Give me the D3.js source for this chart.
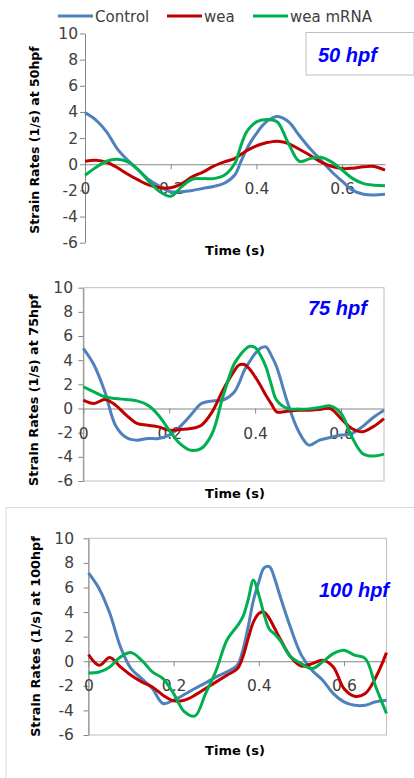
<!DOCTYPE html>
<html lang="en">
<head>
<meta charset="utf-8">
<script src="https://d3js.org/d3.v7.min.js"></script>
<style type="text/css">
body {
	margin: 0;
	background: #fff;
}
.tick text {
	font-family: "DejaVu Sans", sans-serif;
	font-size: 15.5px;
	fill: #404040;
}
.tick line, .domain {
	stroke: #868686;
}
.axis-title {
	font-family: "DejaVu Sans", sans-serif;
	font-weight: bold;
	fill: #000;
}
.stage {
	font-family: "Liberation Sans", Arial, sans-serif;
	font-weight: bold;
	font-style: italic;
	font-size: 20px;
	fill: #0000ff;
}
.legend text {
	font-family: "DejaVu Sans", sans-serif;
	font-size: 15px;
	fill: #404040;
}
</style>
</head>
<body>
<script type="text/javascript">

// time points (s), shared by all three panels
const times = [0, 0.025, 0.05, 0.075, 0.1, 0.125, 0.15, 0.175, 0.2, 0.225, 0.25, 0.275, 0.3, 0.325,
               0.35, 0.3625, 0.375, 0.3875, 0.4, 0.4125, 0.425, 0.4375, 0.45,
               0.475, 0.5, 0.525, 0.55, 0.575, 0.6, 0.625, 0.65, 0.675, 0.7];

// 50 hpf
const control50 = [3.95, 3.4, 2.5, 1.2, 0.3, -0.45, -1.2, -1.7, -2.1, -2.1, -2.0, -1.85, -1.7, -1.45,
                   -0.8, 0.1, 1.0, 1.75, 2.35, 2.9, 3.3, 3.55, 3.65,
                   3.25, 2.2, 1.2, 0.33, -0.55, -1.3, -2.0, -2.3, -2.35, -2.3];
const wea50 = [0.23, 0.3, 0.15, -0.25, -0.77, -1.22, -1.6, -1.8, -1.8, -1.5, -0.97, -0.6, -0.15, 0.18,
               0.45, 0.72, 1.0, 1.22, 1.4, 1.55, 1.66, 1.73, 1.76,
               1.58, 1.15, 0.69, 0.18, -0.15, -0.33, -0.3, -0.2, -0.17, -0.45];
const mrna50 = [-0.85, -0.25, 0.23, 0.38, 0.18, -0.45, -1.35, -2.1, -2.45, -1.73, -1.15, -1.1, -1.1, -0.85,
                0.1, 1.3, 2.35, 2.9, 3.24, 3.38, 3.42, 3.38, 3.2,
                1.58, 0.23, 0.43, 0.53, 0.18, -0.45, -1.1, -1.48, -1.6, -1.65];

// 75 hpf
const control75 = [4.97, 3.6, 1.4, -1.4, -2.4, -2.62, -2.48, -2.48, -2.2, -1.5, -0.55, 0.41, 0.63, 0.69,
                   1.3, 2.1, 3.17, 3.9, 4.55, 5.0, 5.1, 4.4, 3.45,
                   0.55, -1.8, -3.03, -2.62, -2.4, -2.2, -2.07, -1.5, -0.74, -0.14];
const wea75 = [0.69, 0.41, 0.74, 0.28, -0.55, -1.24, -1.38, -1.52, -1.8, -1.74, -1.66, -1.38, -0.28, 1.52,
               3.03, 3.6, 3.64, 3.25, 2.62, 1.9, 1.1, 0.4, -0.28,
               -0.22, -0.14, -0.14, -0.08, 0, -0.83, -1.66, -1.93, -1.5, -0.83];
const mrna75 = [1.8, 1.38, 0.97, 0.83, 0.74, 0.63, 0.28, -0.55, -1.8, -2.9, -3.45, -3.3, -2.07, 0.97,
                3.6, 4.3, 4.83, 5.15, 5.05, 4.4, 3.45, 2.0, 0.69,
                0, -0.05, -0.03, 0.08, 0.22, -0.41, -2.34, -3.72, -3.94, -3.78];

// 100 hpf
const control100 = [7.18, 5.9, 3.9, 1.17, -0.6, -1.41, -2.22, -3.44, -3.17, -2.71, -2.22, -1.76, -1.27, -0.87,
                    -0.3, 0.9, 2.8, 4.96, 6.45, 7.6, 7.7, 6.7, 5.3,
                    2.7, 0.5, -0.73, -1.54, -2.63, -3.3, -3.58, -3.58, -3.3, -3.17];
const wea100 = [0.54, -0.33, 0.3, -0.46, -1.14, -1.68, -2.09, -2.76, -3.22, -3.17, -2.76, -2.22, -1.68, -1.14,
                -0.6, 0.35, 1.84, 3.2, 3.88, 4.0, 3.47, 2.66, 1.84,
                0.35, -0.4, -0.19, 0.08, -0.46, -2.22, -2.85, -2.63, -1.3, 0.7];
const mrna100 = [-0.95, -0.87, -0.46, 0.35, 0.7, 0.08, -0.87, -1.41, -2.63, -4.1, -4.45, -2.63, -0.73, 1.71,
                 2.9, 3.6, 5.0, 6.6, 5.4, 3.8, 2.6, 2.2, 1.7,
                 0.35, -0.19, -0.6, -0.05, 0.62, 0.89, 0.49, 0.22, -2.09, -4.25];

const seriesNames = ["Control", "wea", "wea mRNA"];
const stages = ["50 hpf", "75 hpf", "100 hpf"];
const yTitles = ["Strain Rates (1/s) at 50hpf", "Strain Rates (1/s) at 75hpf", "Strain Rates (1/s) at 100hpf"];
const yTicks = [-6, -4, -2, 0, 2, 4, 6, 8, 10];
const xTicks = [0, 0.2, 0.4, 0.6];
const xTickLabels = ["0", "0.2", "0.4", "0.6"];

const colors = ["#4f81bd", "#c00000", "#00b050"];

const width = 414;
const height = 778;

const svg = d3.select("body")
	.append("svg")
	.attr("width", width)
	.attr("height", height);

svg.append("rect")
	.attr("width", width)
	.attr("height", height)
	.attr("fill", "#fff");

// outer frame of the bottom chart
svg.append("path")
	.attr("d", "M6,778V507.5H414")
	.attr("fill", "none")
	.attr("stroke", "#d9d9d9");

// layout of each panel
const panels = [
	{ data: [control50, wea50, mrna50], x0: 85, x1: 385, yTop: 33.5, yBot: 242.7, border: false,
	  labelRight: 78, yTitleX: 39, yTitleY: 140, yTitleSize: 12.5, timeY: 255,
	  stageX: 318, stageY: 62, box: [306, 32.5, 108, 42.5] },
	{ data: [control75, wea75, mrna75], x0: 83.3, x1: 384, yTop: 287.7, yBot: 481, border: true,
	  labelRight: 73, yTitleX: 38, yTitleY: 390, yTitleSize: 12.8, timeY: 498,
	  stageX: 308, stageY: 315, box: null },
	{ data: [control100, wea100, mrna100], x0: 88.5, x1: 386.5, yTop: 538.3, yBot: 735, border: true,
	  labelRight: 74, yTitleX: 40, yTitleY: 636.5, yTitleSize: 12.8, timeY: 755,
	  stageX: 319, stageY: 597, box: null }
];

panels.forEach((p, i) => {
	const x = d3.scaleLinear().domain([0, 0.7]).range([p.x0, p.x1]);
	const y = d3.scaleLinear().domain([-6, 10]).range([p.yBot, p.yTop]);
	const g = svg.append("g");

	if (p.border) {
		g.append("rect")
			.attr("x", p.x0)
			.attr("y", p.yTop)
			.attr("width", p.x1 - p.x0)
			.attr("height", p.yBot - p.yTop)
			.attr("fill", "none")
			.attr("stroke", "#bfbfbf");
	}

	// y axis
	g.append("g")
		.attr("transform", "translate(" + p.x0 + ",0)")
		.call(d3.axisLeft(y).tickValues(yTicks).tickSize(5).tickSizeOuter(0)
			.tickPadding(p.x0 - 5 - p.labelRight)
			.tickFormat(d => String(d)));

	// x axis sits at zero
	g.append("g")
		.attr("transform", "translate(0," + y(0) + ")")
		.call(d3.axisBottom(x).tickValues(xTicks).tickSize(5).tickSizeOuter(0)
			.tickPadding(14).tickFormat((d, k) => xTickLabels[k]));

	const line = d3.line()
		.x((d, k) => x(times[k]))
		.y(d => y(d))
		.curve(d3.curveCatmullRom.alpha(0.5));

	p.data.forEach((vals, s) => {
		g.append("path")
			.datum(vals)
			.attr("d", line)
			.attr("fill", "none")
			.attr("stroke", colors[s])
			.attr("stroke-width", 3)
			.attr("stroke-linejoin", "round");
	});

	// axis titles
	g.append("text")
		.attr("class", "axis-title")
		.attr("transform", "translate(" + p.yTitleX + "," + p.yTitleY + ") rotate(-90)")
		.attr("text-anchor", "middle")
		.style("font-size", p.yTitleSize + "px")
		.text(yTitles[i]);

	g.append("text")
		.attr("class", "axis-title")
		.attr("x", 235)
		.attr("y", p.timeY)
		.attr("text-anchor", "middle")
		.style("font-size", "13px")
		.text("Time (s)");

	if (p.box) {
		g.append("rect")
			.attr("x", p.box[0])
			.attr("y", p.box[1])
			.attr("width", p.box[2])
			.attr("height", p.box[3])
			.attr("fill", "#fff")
			.attr("stroke", "#bfbfbf");
	}

	g.append("text")
		.attr("class", "stage")
		.attr("x", p.stageX)
		.attr("y", p.stageY)
		.text(stages[i]);
});

// legend on top
const legendX = [58, 167, 253];
const legend = svg.append("g").attr("class", "legend");
seriesNames.forEach((name, s) => {
	legend.append("line")
		.attr("x1", legendX[s])
		.attr("x2", legendX[s] + 35)
		.attr("y1", 16)
		.attr("y2", 16)
		.attr("stroke", colors[s])
		.attr("stroke-width", 3);
	legend.append("text")
		.attr("x", legendX[s] + 37)
		.attr("y", 21.5)
		.text(name);
});

</script>
</body>
</html>
